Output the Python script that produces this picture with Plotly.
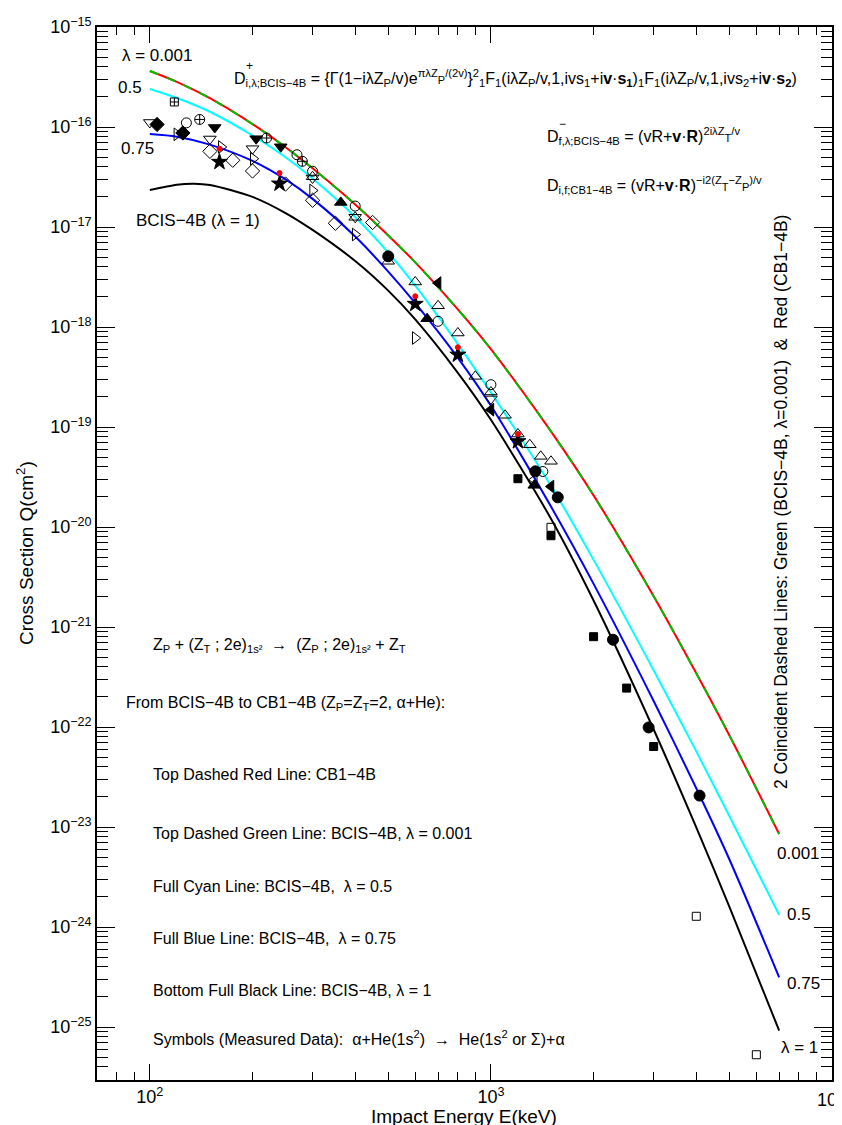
import math
import plotly.graph_objects as go

# ---------------- data ----------------
E_main = [100, 120, 150, 200, 250, 300, 400, 500, 600, 800, 1000, 1500, 2000, 3000, 4000, 5000, 7000]
Q_cb1 = [3.63e-16, 2.83e-16, 1.94e-16, 1.07e-16, 6.28e-17, 3.86e-17, 1.68e-17, 8.24e-18, 4.43e-18,
         1.50e-18, 6.0e-19, 9.04e-20, 2.07e-20, 2.03e-21, 3.45e-22, 8.28e-23, 8.51e-24]
Q_bcis_0001 = [3.63e-16, 2.83e-16, 1.94e-16, 1.07e-16, 6.28e-17, 3.86e-17, 1.68e-17, 8.24e-18, 4.43e-18,
               1.50e-18, 6.0e-19, 9.04e-20, 2.07e-20, 2.03e-21, 3.45e-22, 8.28e-23, 8.51e-24]
Q_bcis_05 = [2.40e-16, 1.95e-16, 1.42e-16, 8.22e-17, 4.98e-17, 3.06e-17, 1.26e-17, 5.55e-18, 2.59e-18,
             6.75e-19, 2.22e-19, 2.58e-20, 4.69e-21, 3.69e-22, 5.70e-23, 1.29e-23, 1.32e-24]
E_blue = [100, 120, 150, 200, 250, 300, 400, 500, 600, 800, 1000, 1500, 2000, 3000, 4000, 5000, 6500, 7000]
Q_bcis_075 = [8.51e-17, 8.0e-17, 6.67e-17, 4.58e-17, 2.99e-17, 1.91e-17, 8.02e-18, 3.58e-18, 1.73e-18,
              4.92e-19, 1.63e-19, 1.60e-20, 2.70e-21, 1.82e-22, 2.44e-23, 4.76e-24, 5.77e-25, 3.14e-25]
E_black = [100, 120, 135, 150, 200, 250, 300, 400, 500, 600, 800, 1000, 1500, 2000, 3000, 4000, 5000, 7000]
Q_bcis_1 = [2.34e-17, 2.65e-17, 2.71e-17, 2.63e-17, 2.0e-17, 1.38e-17, 9.35e-18, 4.57e-18, 2.31e-18,
            1.19e-18, 3.48e-19, 1.18e-19, 1.21e-20, 1.84e-21, 9.44e-23, 9.91e-24, 1.60e-24, 9.2e-26]

# measured data, grouped by symbol
E_tri_down_open = [100, 150, 200, 300, 400, 1000]
Q_tri_down_open = [1.11e-16, 7.59e-17, 6.07e-17, 3.09e-17, 1.25e-17, 1.91e-19]
E_tri_up_open = [300, 400, 500, 600, 700, 800, 900, 1000, 1100, 1200, 1300, 1400, 1500]
Q_tri_up_open = [3.18e-17, 1.25e-17, 4.54e-18, 2.82e-18, 1.63e-18, 8.71e-19, 3.21e-19, 2.24e-19,
                 1.31e-19, 8.51e-20, 6.65e-20, 5.09e-20, 4.54e-20]
E_circle = [500, 1350, 1570, 2280, 2900, 4090]
Q_circle = [5.09e-18, 3.60e-20, 1.98e-20, 7.46e-22, 9.89e-23, 2.06e-23]
E_square = [1200, 1500, 2000, 2500, 3000]
Q_square = [3.04e-20, 8.18e-21, 8.0e-22, 2.45e-22, 6.38e-23]
E_square_open = [1500, 4000, 6000]
Q_square_open = [9.93e-21, 1.28e-24, 5.28e-26]
E_star = [160, 240, 600, 800, 1200]
Q_star = [4.47e-17, 2.71e-17, 1.70e-18, 5.28e-19, 7.19e-20]
E_reddot = [160, 240, 600, 800, 1200]
Q_reddot = [6.07e-17, 3.47e-17, 2.03e-18, 6.27e-19, 8.51e-20]
E_diamond_open = [150, 175, 200, 250, 300, 350, 450]
Q_diamond_open = [5.71e-17, 4.65e-17, 3.63e-17, 2.69e-17, 1.85e-17, 1.09e-17, 1.11e-17]
E_diamond = [105, 125]
Q_diamond = [1.06e-16, 8.71e-17]
E_circle_open = [128, 270, 300, 400, 700, 1000, 1420]
Q_circle_open = [1.10e-16, 5.28e-17, 3.61e-17, 1.62e-17, 1.14e-18, 2.65e-19, 3.59e-20]
E_circle_plus = [140, 220, 280]
Q_circle_plus = [1.19e-16, 7.76e-17, 4.54e-17]
E_square_plus = [118]
Q_square_plus = [1.78e-16]
E_tri_down = [155, 205, 242]
Q_tri_down = [9.89e-17, 7.64e-17, 6.34e-17]
E_tri_right_open = [120, 162, 201, 300, 400, 600]
Q_tri_right_open = [8.45e-17, 6.31e-17, 4.82e-17, 2.32e-17, 8.41e-18, 7.76e-19]
E_tri_up = [363, 650, 1340]
Q_tri_up = [1.76e-17, 1.21e-18, 2.61e-20]
E_tri_left = [700, 1000, 1500]
Q_tri_left = [2.75e-18, 1.49e-19, 2.54e-20]
E_tri_left_open = [1340]
Q_tri_left_open = [2.97e-20]

x_tick_vals = [100, 1000, 10000]
x_tick_text = ["10<sup>2</sup>", "10<sup>3</sup>", ""]
y_exponents = list(range(-15, -26, -1))
y_tick_vals = [10.0 ** k for k in y_exponents]
y_tick_text = ["10<sup>\u2212%d</sup>" % (-k) for k in y_exponents]

# ---------------- figure ----------------
FONT = "Liberation Sans, Arial, Helvetica, sans-serif"
fig = go.Figure()

fig.add_trace(go.Scatter(x=E_black, y=Q_bcis_1, mode="lines",
                         line=dict(color="black", width=2, shape="spline", smoothing=0.8)))
fig.add_trace(go.Scatter(x=E_blue, y=Q_bcis_075, mode="lines",
                         line=dict(color="#0000ff", width=2, shape="spline", smoothing=0.8)))
fig.add_trace(go.Scatter(x=E_main, y=Q_bcis_05, mode="lines",
                         line=dict(color="#00ffff", width=2, shape="spline", smoothing=0.8)))
fig.add_trace(go.Scatter(x=E_main, y=Q_cb1, mode="lines",
                         line=dict(color="#ff0000", width=2, shape="spline", smoothing=0.8)))
fig.add_trace(go.Scatter(x=E_main, y=Q_bcis_0001, mode="lines",
                         line=dict(color="#00c000", width=2, dash="9px,9px", shape="spline", smoothing=0.8)))


def sym(xs, ys, symbol, size=11, color="black"):
    fig.add_trace(go.Scatter(
        x=xs, y=ys, mode="markers",
        marker=dict(symbol=symbol, size=size, color=color,
                    line=dict(color=color, width=1))))


sym(E_tri_down_open, Q_tri_down_open, "triangle-down-open", 11)
sym(E_tri_up_open, Q_tri_up_open, "triangle-up-open", 11)
sym(E_diamond_open, Q_diamond_open, "diamond-open", 11)
sym(E_circle_open, Q_circle_open, "circle-open", 10)
sym(E_circle_plus, Q_circle_plus, "circle-cross-open", 10)
sym(E_square_plus, Q_square_plus, "square-cross-open", 8)
sym(E_tri_right_open, Q_tri_right_open, "triangle-right-open", 11)
sym(E_tri_left_open, Q_tri_left_open, "triangle-left-open", 11)
sym(E_square_open, Q_square_open, "square-open", 8)
sym(E_diamond, Q_diamond, "diamond", 11)
sym(E_tri_down, Q_tri_down, "triangle-down", 11)
sym(E_tri_up, Q_tri_up, "triangle-up", 11)
sym(E_tri_left, Q_tri_left, "triangle-left", 11)
sym(E_circle, Q_circle, "circle", 11)
sym(E_square, Q_square, "square", 8)
sym(E_star, Q_star, "star", 12)
sym(E_reddot, Q_reddot, "circle", 5, "red")

# ---------------- annotations ----------------
L, R, T, B = 89, 18, 19, 53
W, H = 842, 1125
PW, PH = W - L - R, H - T - B


def px(x):
    return (x - L) / PW


def py(y):
    return (H - B - y) / PH


def note(x, y, text, size=16, xanchor="left", angle=0):
    fig.add_annotation(x=px(x), y=py(y), xref="paper", yref="paper", text=text,
                       showarrow=False, xanchor=xanchor, yanchor="middle", textangle=angle,
                       font=dict(family=FONT, size=size, color="black"))


sm = '<span style="font-size:11px">%s</span>'

note(112, 47, "\u03bb = 0.001", 17)
note(108, 80, "0.5", 17)
note(111, 140, "0.75", 17)
note(126, 212, "BCIS\u22124B (\u03bb = 1)", 17)

f1 = ("D<sub>i,\u03bb;BCIS\u22124B</sub> = {\u0393(1\u2212i\u03bbZ<sub>P</sub>/v)e<sup>\u03c0\u03bbZ</sup>"
      + sm % "P" + "<sup>/(2v)</sup>}<sup>2</sup><sub>1</sub>F<sub>1</sub>(i\u03bbZ<sub>P</sub>/v,1,ivs<sub>1</sub>"
      "+i<b>v</b>\u00b7<b>s</b><sub><b>1</b></sub>)<sub>1</sub>F<sub>1</sub>(i\u03bbZ<sub>P</sub>/v,1,ivs<sub>2</sub>"
      "+i<b>v</b>\u00b7<b>s</b><sub><b>2</b></sub>)")
note(224, 70, f1)
note(236, 58, "+", 12)

f2 = ("D<sub>f,\u03bb;BCIS\u22124B</sub> = (vR+<b>v</b>\u00b7<b>R</b>)<sup>2i\u03bbZ</sup>"
      + sm % "T" + "<sup>/v</sup>")
note(537, 128, f2)
note(549, 116, "\u2212", 12)

f3 = ("D<sub>i,f;CB1\u22124B</sub> = (vR+<b>v</b>\u00b7<b>R</b>)<sup>\u2212i2(Z</sup>" + sm % "T"
      + "<sup>\u2212Z</sup>" + sm % "P" + "<sup>)/v</sup>")
note(537, 177, f3)

note(143, 637, "Z<sub>P</sub> + (Z<sub>T</sub> ; 2e)<sub>1s\u00b2</sub>  \u2192  (Z<sub>P</sub> ; 2e)<sub>1s\u00b2</sub> + Z<sub>T</sub>")
note(116, 695, "From BCIS\u22124B to CB1\u22124B (Z<sub>P</sub>=Z<sub>T</sub>=2, \u03b1+He):")
note(143, 767, "Top Dashed Red Line: CB1\u22124B")
note(143, 825, "Top Dashed Green Line: BCIS\u22124B, \u03bb = 0.001")
note(143, 878, "Full Cyan Line: BCIS\u22124B,  \u03bb = 0.5")
note(143, 930, "Full Blue Line: BCIS\u22124B,  \u03bb = 0.75")
note(143, 982, "Bottom Full Black Line: BCIS\u22124B, \u03bb = 1")
note(143, 1030, "Symbols (Measured Data):  \u03b1+He(1s<sup>2</sup>)  \u2192  He(1s<sup>2</sup> or \u03a3)+\u03b1")

note(767, 845, "0.001", 17)
note(777, 906, "0.5", 17)
note(777, 975, "0.75", 17)
note(771, 1039, "\u03bb = 1", 17)

note(773, 494, "2 Coincident Dashed Lines: Green (BCIS\u22124B, \u03bb=0.001)  &amp;  Red (CB1\u22124B)",
     17.5, xanchor="center", angle=-90)

# axis titles and the last x tick label
note(456, 1108, "Impact Energy E(keV)", 19, xanchor="center")
note(17, 545, "Cross Section Q(cm<sup>2</sup>)", 19, xanchor="center", angle=-90)
note(838, 1090, "10<sup>4</sup>", 18, xanchor="right")

# ---------------- axes ----------------
x_minor = [m * 10 ** k for k in (1, 2, 3) for m in range(2, 10) if 70 <= m * 10 ** k <= 9000]
y_minor = [m * 10.0 ** k for k in range(-26, -15) for m in range(2, 10)]

axis_common = dict(showgrid=False, zeroline=False, showline=True, linecolor="black", linewidth=1.5,
                   mirror="ticks", ticks="inside", tickcolor="black", tickwidth=1.2,
                   tickfont=dict(family=FONT, size=18, color="black"))

fig.update_xaxes(type="log", range=[math.log10(70), 4], tickvals=x_tick_vals, ticktext=x_tick_text,
                 ticklen=16, minor=dict(tickvals=x_minor, ticks="inside", ticklen=8, tickcolor="black",
                                        tickwidth=1.2),
                 **axis_common)
fig.update_yaxes(type="log", range=[-25.53, -15], tickvals=y_tick_vals, ticktext=y_tick_text,
                 ticklen=18, minor=dict(tickvals=y_minor, ticks="inside", ticklen=11, tickcolor="black",
                                        tickwidth=1.2),
                 **axis_common)

fig.update_layout(width=W, height=H, margin=dict(l=L, r=R, t=T, b=B, autoexpand=False),
                  paper_bgcolor="white", plot_bgcolor="white", showlegend=False,
                  font=dict(family=FONT, color="black"))

fig.write_html("out.html")
